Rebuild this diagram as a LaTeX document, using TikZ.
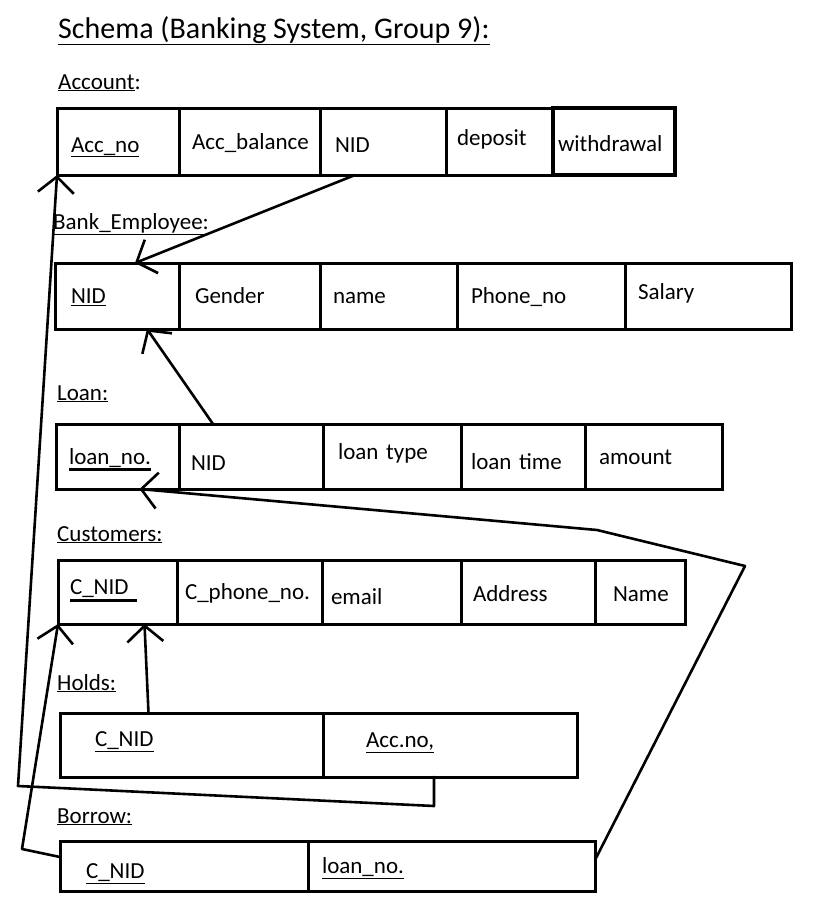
\documentclass[tikz,border=0pt]{standalone}
\usepackage{fontspec}
\setmainfont{Carlito}
\usetikzlibrary{arrows.meta,positioning}
% key columns
\newcommand\keyul[1]{\underline{#1}}
\newcommand\keybar[1]{\vtop{\hbox{#1}\kern1pt\hrule height 3pt}}
\tikzset{
    %Define standard arrow tip
    >={Straight Barb[length=16pt,width=36pt]},
    %Define style for table cells
    cell/.style={
           rectangle,
           draw=black, line width=3pt,
           outer sep=0pt,
           inner ysep=0pt,
           inner xsep=13pt,
           text width=#1,
           text height=18pt,
           text depth=3pt,
           align=left,
           font=\fontsize{23}{26}\selectfont},
    % Define style for table names
    tname/.style={
           anchor=base west,
           inner sep=0pt,
           font=\fontsize{23}{26}\selectfont},
    % Define arrow style
    fk/.style={
           ->,
           line width=2.6pt,
           line cap=round,
           line join=round},
}

\begin{document}
\begin{tikzpicture}[x=1pt, y=-1pt]
 \useasboundingbox (0,0) rectangle (828,902);
 %title and table names
    \node[anchor=base west, inner sep=0pt, font=\fontsize{30}{34}\selectfont] (title) at (58,38) {\underline{Schema (Banking System, Group 9):}};
    \node[tname] (acclbl) at (58,89) {\underline{Account}:};
    \node[tname] (emplbl) at (53,229) {\underline{Bank\_Employee:}};
    \node[tname] (loanlbl) at (57,400) {\underline{Loan:}};
    \node[tname] (custlbl) at (57,541) {\underline{Customers:}};
    \node[tname] (holdlbl) at (57,690) {\underline{Holds:}};
    \node[tname] (borlbl) at (57,823) {\underline{Borrow:}};
 %Account
  \begin{scope}[minimum height=67pt]
    \node[cell=94pt, inner xsep=14pt, anchor=north west] (accno) at (57,108) {\raisebox{-3pt}{\keyul{Acc\_no}}};
    \node[cell=115pt, right=0pt of accno] (accbal) {Acc\_balance};
    \node[cell=96pt, inner xsep=15pt, right=0pt of accbal] (accnid) {\raisebox{-3pt}{NID}};
    \node[cell=85pt, inner xsep=11pt, right=0pt of accnid] (deposit) {\raisebox{4pt}{deposit}};
    \node[cell=112pt, inner xsep=5pt, line width=4.5pt, right=0pt of deposit] (withdraw) {\raisebox{-2pt}{withdrawal}};
  \end{scope}
 %Bank_Employee
  \begin{scope}[minimum height=66pt]
    \node[cell=92pt, inner xsep=16pt, anchor=north west] (empnid) at (55,263) {\keyul{NID}};
    \node[cell=109pt, inner xsep=16pt, right=0pt of empnid] (gender) {Gender};
    \node[cell=111pt, right=0pt of gender] (ename) {name};
    \node[cell=140pt, inner xsep=14pt, right=0pt of ename] (ephone) {Phone\_no};
    \node[cell=140pt, right=0pt of ephone] (salary) {\raisebox{4pt}{Salary}};
  \end{scope}
 %Loan
  \begin{scope}[minimum height=65pt]
    \node[cell=97pt, anchor=north west] (loanno) at (56,424) {\keybar{loan\_no.}};
    \node[cell=120pt, inner xsep=12pt, right=0pt of loanno] (loannid) {\raisebox{-6pt}{NID}};
    \node[cell=108pt, inner xsep=15pt, right=0pt of loannid] (ltype) {\raisebox{5pt}{loan type}};
    \node[cell=104pt, inner xsep=10pt, right=0pt of ltype] (ltime) {\raisebox{-5pt}{loan time}};
    \node[cell=109pt, inner xsep=14pt, right=0pt of ltime] (amount) {amount};
  \end{scope}
 %Customers
  \begin{scope}[minimum height=64pt]
    \node[cell=95pt, inner xsep=12pt, anchor=north west] (cnid) at (58,560) {\raisebox{5pt}{\keybar{C\_NID\hspace{8pt}}}};
    \node[cell=129pt, inner xsep=8pt, right=0pt of cnid] (cphone) {C\_phone\_no.};
    \node[cell=121pt, inner xsep=9pt, right=0pt of cphone] (email) {\raisebox{-5pt}{email}};
    \node[cell=110pt, inner xsep=12pt, right=0pt of email] (address) {\raisebox{-2pt}{Address}};
    \node[cell=54pt, inner xsep=18pt, right=0pt of address] (cname) {\raisebox{-2pt}{Name}};
  \end{scope}
 %Holds
  \begin{scope}[minimum height=64pt]
    \node[cell=193pt, inner xsep=35pt, anchor=north west] (hcnid) at (60,713) {\raisebox{6pt}{\keyul{C\_NID}}};
    \node[cell=168pt, inner xsep=43pt, right=0pt of hcnid] (haccno) {\raisebox{5pt}{\keyul{Acc.no,}}};
  \end{scope}
 %Borrow
  \begin{scope}[minimum height=50pt]
    \node[cell=196pt, inner xsep=26pt, anchor=north west] (bcnid) at (60,841) {\raisebox{-5pt}{\keyul{C\_NID}}};
    \node[cell=259pt, inner xsep=14pt, right=0pt of bcnid] (bloanno) {\keyul{loan\_no.}};
  \end{scope}
 %bends
    \coordinate (l1) at (745,566);
    \coordinate (l2) at (597,530);
    \coordinate (h1) at (434,806);
    \coordinate (h2) at (18,786);
    \coordinate (c1) at (22,849);
 %edges
    \draw[fk] ([xshift=-28pt]accnid.south) -- ([xshift=18pt]empnid.north);
    \draw[fk] ([xshift=-38pt]loannid.north) -- ([xshift=30pt]empnid.south);
    \draw[fk] ([yshift=6pt]bloanno.east) -- (l1) -- (l2) -- ([xshift=22pt]loanno.south);
    \draw[fk] ([xshift=-43pt]hcnid.north) -- ([xshift=27pt]cnid.south);
    \draw[fk] ([xshift=-16pt]haccno.south) -- (h1) -- (h2) -- (accno.south west);
    \draw[fk] ([yshift=9pt]bcnid.west) -- (c1) -- (cnid.south west);
\end{tikzpicture}
\end{document}
